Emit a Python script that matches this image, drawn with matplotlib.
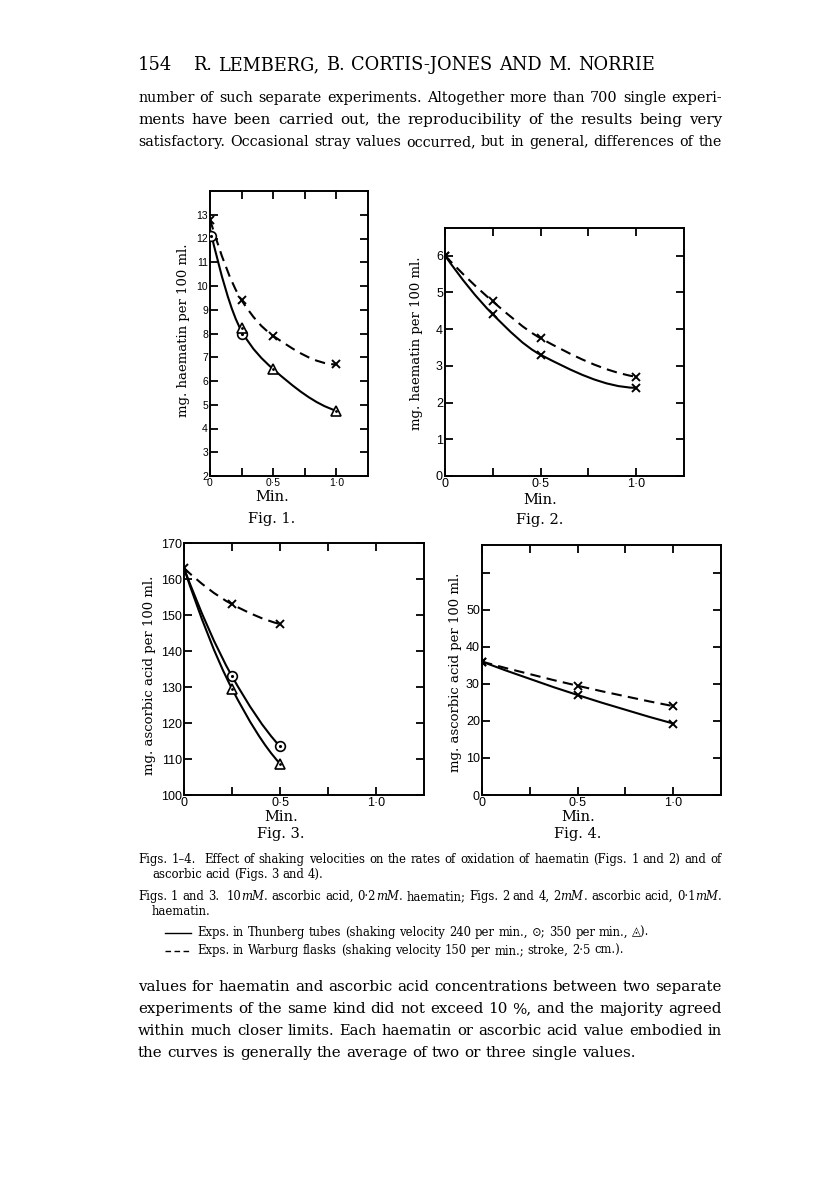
import matplotlib
matplotlib.use("Agg")
import matplotlib.pyplot as plt
from matplotlib.path import Path
from matplotlib.patches import PathPatch
from matplotlib.lines import Line2D
import numpy as np

W, H = 816, 1195
SERIF = ["DejaVu Serif", "DejaVu Sans"]
TICKF = ["Liberation Sans Narrow", "Liberation Sans", "DejaVu Sans"]

# ---- Fig. 1 (haematin, 10 mM ascorbic acid) ----
f1_warb_x = [0, 0.25, 0.5, 1.0]
f1_warb_y = [12.8, 9.4, 7.9, 6.7]
f1_thun_x = [0, 0.25, 0.5, 1.0]
f1_thun_y = [12.4, 8.1, 6.5, 4.75]
f1_circ_x = [0.01, 0.25]
f1_circ_y = [12.1, 8.0]
f1_tri_x = [0.25, 0.5, 1.0]
f1_tri_y = [8.25, 6.5, 4.75]

# ---- Fig. 2 (haematin, 2 mM ascorbic acid) ----
f2_warb_x = [0, 0.25, 0.5, 1.0]
f2_warb_y = [6.0, 4.75, 3.75, 2.7]
f2_thun_x = [0, 0.25, 0.5, 1.0]
f2_thun_y = [6.0, 4.4, 3.3, 2.4]

# ---- Fig. 3 (ascorbic acid, 10 mM) ----
f3_warb_x = [0, 0.25, 0.5]
f3_warb_y = [163, 153, 147.5]
f3_circ_x = [0, 0.25, 0.5]
f3_circ_y = [163, 133, 113.5]
f3_tri_x = [0, 0.25, 0.5]
f3_tri_y = [163, 129.5, 108.7]

# ---- Fig. 4 (ascorbic acid, 2 mM) ----
f4_warb_x = [0, 0.5, 1.0]
f4_warb_y = [36, 29.5, 24]
f4_thun_x = [0, 0.5, 1.0]
f4_thun_y = [36, 27, 19.3]

xticks = [0, 0.25, 0.5, 0.75, 1.0]
xlabels = ["0", "", "0·5", "", "1·0"]

fig = plt.figure(figsize=(W / 100, H / 100), dpi=100)
rend = fig.canvas.get_renderer()


def px(x, y):
    return x / W, 1 - y / H


def make_ax(l, t, r, b):
    return fig.add_axes([l / W, 1 - b / H, (r - l) / W, (b - t) / H])


def smooth(ax, xs, ys, dashed=False):
    # monotone cubic (pchip-style tangents) drawn as bezier segments
    x = np.asarray(xs, float)
    y = np.asarray(ys, float)
    h = np.diff(x)
    d = np.diff(y) / h
    n = len(x)
    m = np.zeros(n)
    for k in range(1, n - 1):
        if d[k - 1] * d[k] <= 0:
            m[k] = 0
        else:
            w1 = 2 * h[k] + h[k - 1]
            w2 = h[k] + 2 * h[k - 1]
            m[k] = (w1 + w2) / (w1 / d[k - 1] + w2 / d[k])
    if n > 2:
        m[0] = ((2 * h[0] + h[1]) * d[0] - h[0] * d[1]) / (h[0] + h[1])
        m[-1] = ((2 * h[-1] + h[-2]) * d[-1] - h[-1] * d[-2]) / (h[-1] + h[-2])
    else:
        m[:] = d[0]
    verts, codes = [(x[0], y[0])], [Path.MOVETO]
    for k in range(n - 1):
        t = h[k] / 3
        verts += [(x[k] + t, y[k] + m[k] * t),
                  (x[k + 1] - t, y[k + 1] - m[k + 1] * t),
                  (x[k + 1], y[k + 1])]
        codes += [Path.CURVE4] * 3
    ls = (0, (5, 3)) if dashed else "-"
    ax.add_patch(PathPatch(Path(verts, codes), fill=False, lw=1.5,
                           ec="black", ls=ls, zorder=2))


def crosses(ax, xs, ys):
    ax.plot(xs, ys, "x", color="black", ms=5.5, mew=1.4, zorder=3)


def circles(ax, xs, ys):
    ax.plot(xs, ys, "o", mfc="white", mec="black", ms=7, mew=1.2, zorder=3)
    ax.plot(xs, ys, ".", color="black", ms=2.5, zorder=4)


def triangles(ax, xs, ys):
    ax.plot(xs, ys, "^", mfc="white", mec="black", ms=7.5, mew=1.2, zorder=3)
    ax.plot(xs, ys, ".", color="black", ms=2, zorder=4)


def style(ax, ylim, yticks, ylabels, fs):
    ax.set_xlim(0, 1.25)
    ax.set_ylim(*ylim)
    ax.set_xticks(xticks)
    ax.set_xticklabels(xlabels)
    ax.set_yticks(yticks)
    ax.set_yticklabels(ylabels)
    for s in ax.spines.values():
        s.set_linewidth(1.4)
    ax.tick_params(direction="in", length=6, width=1.3, top=True, right=True,
                   labelsize=fs, pad=1.5)
    for lab in ax.get_xticklabels() + ax.get_yticklabels():
        lab.set_family(TICKF)


def axis_words(xc, y_min, y_fig, name, lab_x, lab_yc, label):
    fig.text(*px(xc, y_min), "Min.", family=SERIF, fontsize=10.5,
             ha="center", va="center")
    fig.text(*px(xc, y_fig), name, family=SERIF, fontsize=10.5,
             ha="center", va="center")
    fig.text(*px(lab_x, lab_yc), label, family=SERIF, fontsize=9.5,
             rotation=90, ha="center", va="center")


# Fig. 1
ax1 = make_ax(210, 191, 368, 476)
smooth(ax1, f1_warb_x, f1_warb_y, dashed=True)
smooth(ax1, f1_thun_x, f1_thun_y)
crosses(ax1, f1_warb_x, f1_warb_y)
circles(ax1, f1_circ_x, f1_circ_y)
triangles(ax1, f1_tri_x, f1_tri_y)
style(ax1, (2, 14), list(range(2, 14)), [str(v) for v in range(2, 14)], 7.5)
axis_words(272, 497, 519, "Fig. 1.", 184, 330, "mg. haematin per 100 ml.")

# Fig. 2
ax2 = make_ax(445, 228, 684, 476)
smooth(ax2, f2_warb_x, f2_warb_y, dashed=True)
smooth(ax2, f2_thun_x, f2_thun_y)
crosses(ax2, f2_warb_x, f2_warb_y)
crosses(ax2, f2_thun_x, f2_thun_y)
style(ax2, (0, 6.75), list(range(0, 7)), [str(v) for v in range(0, 7)], 9)
axis_words(540, 500, 520, "Fig. 2.", 417, 343, "mg. haematin per 100 ml.")

# Fig. 3
ax3 = make_ax(184, 543, 424, 795)
smooth(ax3, f3_warb_x, f3_warb_y, dashed=True)
smooth(ax3, f3_circ_x, f3_circ_y)
smooth(ax3, f3_tri_x, f3_tri_y)
crosses(ax3, f3_warb_x, f3_warb_y)
circles(ax3, f3_circ_x[1:], f3_circ_y[1:])
triangles(ax3, f3_tri_x[1:], f3_tri_y[1:])
style(ax3, (100, 170), list(range(100, 171, 10)),
      [str(v) for v in range(100, 171, 10)], 9)
axis_words(281, 817, 834, "Fig. 3.", 150, 675, "mg. ascorbic acid per 100 ml.")

# Fig. 4
ax4 = make_ax(482, 545, 721, 795)
smooth(ax4, f4_warb_x, f4_warb_y, dashed=True)
smooth(ax4, f4_thun_x, f4_thun_y)
crosses(ax4, f4_warb_x, f4_warb_y)
crosses(ax4, f4_thun_x, f4_thun_y)
style(ax4, (0, 67.5), list(range(0, 61, 10)),
      [str(v) for v in range(0, 51, 10)] + [""], 9)
axis_words(578, 817, 834, "Fig. 4.", 455, 672, "mg. ascorbic acid per 100 ml.")


# ---- page text ----
def build(text, size):
    pieces, widths = [], []
    for word in text.split(" "):
        runs = []
        for k, run in enumerate(word.split("_")):
            if not run:
                continue
            t = fig.text(0, 0, run, fontsize=size, family=SERIF,
                         style="italic" if k % 2 else "normal",
                         va="baseline", ha="left")
            runs.append((t, t.get_window_extent(rend).width))
        pieces.append(runs)
        widths.append(sum(w for _, w in runs))
    a = fig.text(0, 0, "n n", fontsize=size, family=SERIF)
    b = fig.text(0, 0, "nn", fontsize=size, family=SERIF)
    gap = a.get_window_extent(rend).width - b.get_window_extent(rend).width
    a.remove()
    b.remove()
    return pieces, widths, gap


def line(text, x0, y, size, x1=None):
    pieces, widths, gap = build(text, size)
    if x1 is not None:
        natural = sum(widths) + gap * (len(pieces) - 1)
        if natural > (x1 - x0):
            for runs in pieces:
                for t, _ in runs:
                    t.remove()
            size = size * (x1 - x0) / natural * 0.99
            pieces, widths, gap = build(text, size)
        if len(pieces) > 1:
            gap = (x1 - x0 - sum(widths)) / (len(pieces) - 1)
    x = x0
    for runs in pieces:
        for t, w in runs:
            t.set_position(px(x, y))
            x += w
        x += gap
    return size


fig.text(*px(138, 70), "154", family=SERIF, fontsize=13, va="baseline")
line("R. LEMBERG, B. CORTIS-JONES AND M. NORRIE", 193, 70, 14.5, 655)

BODY = 10.9
body_top = [
    "number of such separate experiments. Altogether more than 700 single experi-",
    "ments have been carried out, the reproducibility of the results being very",
    "satisfactory. Occasional stray values occurred, but in general, differences of the",
]
for i, s in enumerate(body_top):
    line(s, 138, 102 + 22 * i, BODY, 722)

CAP = line("Figs. 1–4.  Effect of shaking velocities on the rates of oxidation of "
           "haematin (Figs. 1 and 2) and of", 138, 863, 9.0, 722)
line("ascorbic acid (Figs. 3 and 4).", 152, 878, CAP)
line("Figs. 1 and 3.  10_mM_. ascorbic acid, 0·2_mM_. haematin; Figs. 2 and 4, "
     "2_mM_. ascorbic acid, 0·1_mM_.", 138, 900, CAP, 722)
line("haematin.", 152, 915, CAP)
fig.add_artist(Line2D([165 / W, 191 / W], [1 - 933 / H] * 2, color="black", lw=1.0))
line("Exps. in Thunberg tubes (shaking velocity 240 per min., ⊙; 350 per min., ◬).",
     197, 936, CAP)
fig.add_artist(Line2D([165 / W, 191 / W], [1 - 951 / H] * 2, color="black", lw=1.0,
                      ls=(0, (4, 2.5))))
line("Exps. in Warburg flasks (shaking velocity 150 per min.; stroke, 2·5 cm.).",
     197, 954, CAP)

body_bot = [
    "values for haematin and ascorbic acid concentrations between two separate",
    "experiments of the same kind did not exceed 10 %, and the majority agreed",
    "within much closer limits. Each haematin or ascorbic acid value embodied in",
]
for i, s in enumerate(body_bot):
    line(s, 138, 991 + 22 * i, BODY, 722)
line("the curves is generally the average of two or three single values.",
     138, 1057, BODY)

fig.savefig("out.png", dpi=100)
